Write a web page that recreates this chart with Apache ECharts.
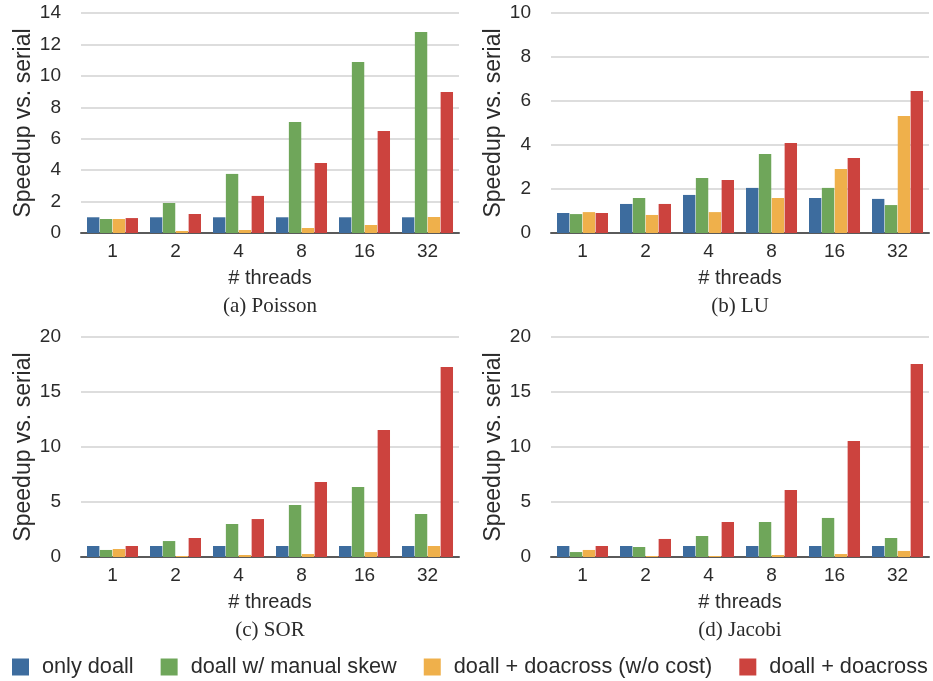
<!DOCTYPE html>
<html>
<head>
<meta charset="utf-8">
<script src="https://cdn.jsdelivr.net/npm/echarts@6/dist/echarts.min.js"></script>
<style>
  html, body { margin: 0; padding: 0; background: #fff; }
  #chart { width: 933px; height: 681px; }
</style>
</head>
<body>
<div id="chart"></div>
<script>
(function () {
  'use strict';

  // categories
  var threads = ['1', '2', '4', '8', '16', '32'];
  var seriesNames = ['only doall', 'doall w/ manual skew', 'doall + doacross (w/o cost)', 'doall + doacross'];
  var colors = ['#3d6c9e', '#6fa65a', '#efb04b', '#cc433e'];

  // (a) Poisson
  var poissonOnly = [1.0, 1.0, 1.0, 1.0, 1.0, 1.0];
  var poissonSkew = [0.89, 1.91, 3.76, 7.07, 10.88, 12.79];
  var poissonNoCost = [0.89, 0.13, 0.19, 0.32, 0.51, 1.02];
  var poissonDoacross = [0.95, 1.21, 2.36, 4.46, 6.49, 8.97];

  // (b) LU
  var luOnly = [0.91, 1.32, 1.73, 2.05, 1.59, 1.55];
  var luSkew = [0.86, 1.59, 2.5, 3.59, 2.05, 1.27];
  var luNoCost = [0.95, 0.82, 0.95, 1.59, 2.91, 5.32];
  var luDoacross = [0.91, 1.32, 2.41, 4.09, 3.41, 6.45];

  // (c) SOR
  var sorOnly = [1.0, 1.0, 1.0, 1.0, 1.0, 1.0];
  var sorSkew = [0.64, 1.45, 3.0, 4.73, 6.36, 3.91];
  var sorNoCost = [0.73, 0.09, 0.18, 0.27, 0.45, 1.0];
  var sorDoacross = [1.0, 1.73, 3.45, 6.82, 11.55, 17.27];

  // (d) Jacobi
  var jacobiOnly = [1.0, 1.0, 1.0, 1.0, 1.0, 1.0];
  var jacobiSkew = [0.45, 0.91, 1.91, 3.18, 3.55, 1.73];
  var jacobiNoCost = [0.64, 0.09, 0.09, 0.18, 0.27, 0.55];
  var jacobiDoacross = [1.0, 1.64, 3.18, 6.09, 10.55, 17.55];

  // y axis scales and captions per panel
  var yMax = [14, 10, 20, 20];
  var yStep = [2, 2, 5, 5];
  var captions = ['(a) Poisson', '(b) LU', '(c) SOR', '(d) Jacobi'];

  var panelData = [
    [poissonOnly, poissonSkew, poissonNoCost, poissonDoacross],
    [luOnly, luSkew, luNoCost, luDoacross],
    [sorOnly, sorSkew, sorNoCost, sorDoacross],
    [jacobiOnly, jacobiSkew, jacobiNoCost, jacobiDoacross]
  ];

  var font = 'Liberation Sans, Arial, Helvetica, sans-serif';
  var textColor = '#2b2b2b';

  var grids = [
    { left: 81, top: 13, width: 378, height: 220 },
    { left: 551, top: 13, width: 378, height: 220 },
    { left: 81, top: 337, width: 378, height: 220 },
    { left: 551, top: 337, width: 378, height: 220 }
  ];

  var xAxes = [], yAxes = [], series = [], graphics = [];

  grids.forEach(function (g, i) {
    xAxes.push({
      type: 'category',
      gridIndex: i,
      data: threads,
      name: '# threads',
      nameLocation: 'middle',
      nameGap: 35,
      nameTextStyle: { fontSize: 20, color: textColor, fontFamily: font },
      axisLine: { lineStyle: { color: '#5a5a5a', width: 2 } },
      axisTick: { show: false },
      axisLabel: { fontSize: 19, color: textColor, fontFamily: font, margin: 9 }
    });
    yAxes.push({
      type: 'value',
      gridIndex: i,
      min: 0,
      max: yMax[i],
      interval: yStep[i],
      name: 'Speedup vs. serial',
      nameLocation: 'middle',
      nameGap: 46,
      nameTextStyle: { fontSize: 23, color: textColor, fontFamily: font },
      axisLine: { show: false },
      axisTick: { show: false },
      axisLabel: { fontSize: 19, color: textColor, fontFamily: font, margin: 20, padding: [4, 0, 0, 0] },
      splitLine: { lineStyle: { color: '#d2d2d2', width: 1.5 } }
    });
    panelData[i].forEach(function (vals, k) {
      series.push({
        name: seriesNames[k],
        type: 'bar',
        xAxisIndex: i,
        yAxisIndex: i,
        data: vals,
        barGap: '4%',
        barCategoryGap: '19%',
        itemStyle: { color: colors[k] },
        animation: false
      });
    });
    graphics.push({
      type: 'text',
      x: g.left + g.width / 2,
      y: g.top + g.height + 73,
      style: {
        text: captions[i],
        fill: textColor,
        font: '21px "Liberation Serif", "Times New Roman", serif',
        textAlign: 'center',
        textVerticalAlign: 'middle'
      }
    });
  });

  var myChart = echarts.init(document.getElementById('chart'));
  myChart.setOption({
    backgroundColor: '#fff',
    animation: false,
    color: colors,
    grid: grids,
    xAxis: xAxes,
    yAxis: yAxes,
    series: series,
    graphic: graphics,
    legend: {
      data: seriesNames,
      left: 12,
      top: 656,
      padding: 0,
      itemWidth: 17,
      itemHeight: 17,
      itemGap: 27,
      icon: 'rect',
      textStyle: { fontSize: 21.7, color: textColor, fontFamily: font, padding: [0, 0, 0, 8] }
    }
  });
})();
</script>
</body>
</html>
